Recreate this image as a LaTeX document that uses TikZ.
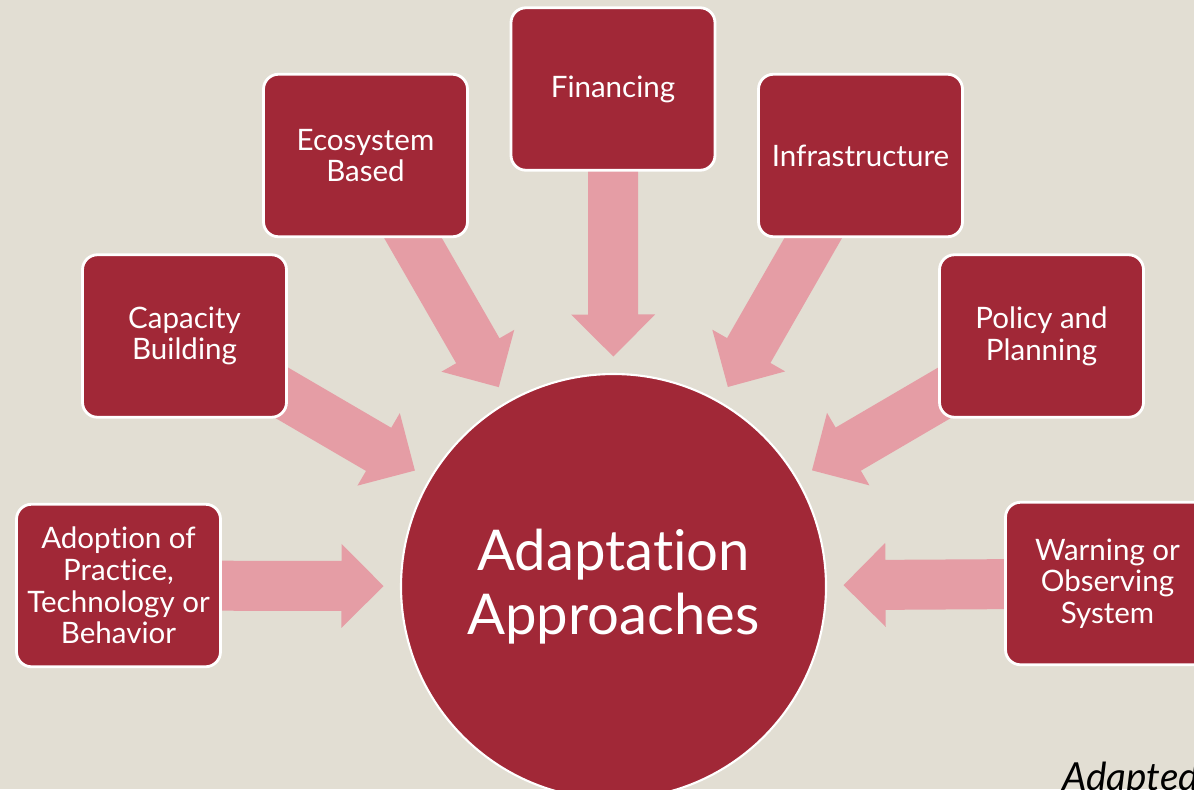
\documentclass[tikz,border=0pt]{standalone}
\usepackage{fontspec}
\setmainfont{Lato}[Ligatures=NoCommon]
\usepackage{xcolor}
\usetikzlibrary{calc, backgrounds}

\definecolor{boxred}{HTML}{A12837}
\definecolor{arrowpink}{HTML}{E59DA5}
\definecolor{paper}{HTML}{E2DED3}

% wide arrow from a box to the hub
\newcommand{\blockarrow}[1]{%
  \coordinate (tip) at ($(hub)!4.6cm!(#1)$);
  \coordinate (neck) at ($(tip)!0.84cm!(#1)$);
  \fill[arrowpink] (tip) -- ($(neck)!0.84cm!90:(#1)$) -- ($(neck)!0.5cm!90:(#1)$)
    -- ($(#1)!0.5cm!-90:(neck)$) -- ($(#1)!0.5cm!90:(neck)$)
    -- ($(neck)!0.5cm!-90:(#1)$) -- ($(neck)!0.84cm!-90:(#1)$) -- cycle;
}

\begin{document}
\begin{tikzpicture}[
    box/.style={rectangle, draw=white, line width=1.6pt, rounded corners=0.3cm, fill=boxred, minimum width=4.08cm, minimum height=3.25cm, align=center, text=white, font=\fontsize{16.8}{18}\selectfont},
    hubnode/.style={circle, draw=white, line width=1.2pt, fill=boxred, minimum size=8.5cm, inner sep=0pt, align=center, text=white, font=\fontsize{32}{36}\selectfont}
]
    \useasboundingbox (0,0) rectangle (23.88,-15.78);
    \clip (0,0) rectangle (23.88,-15.78);

    % Centre
    \node[hubnode] (hub) at (12.27,-11.73) {Adaptation\\Approaches};

    % Approaches around it
    \node[box] (adopt) at (2.37,-11.71) {Adoption of\\Practice,\\Technology or\\Behavior};
    \node[box] (capacity) at (3.69,-6.72) {Capacity\\Building};
    \node[box] (ecosystem) at (7.31,-3.11) {Ecosystem\\Based};
    \node[box] (financing) at (12.26,-1.78) {Financing};
    \node[box] (infra) at (17.21,-3.11) {Infrastructure};
    \node[box] (policy) at (20.83,-6.72) {Policy and\\Planning};
    \node[box] (warning) at (22.15,-11.67) {Warning or\\Observing\\System};

    % Source note
    \node[anchor=base west, inner sep=0pt, font=\fontsize{22}{26}\selectfont\itshape] (source) at (21.24,-15.8) {Adapted};

    % Arrows
    \begin{scope}[on background layer]
        \fill[paper] (0,0) rectangle (23.88,-15.78);
        \blockarrow{adopt}
        \blockarrow{capacity}
        \blockarrow{ecosystem}
        \blockarrow{financing}
        \blockarrow{infra}
        \blockarrow{policy}
        \blockarrow{warning}
    \end{scope}
\end{tikzpicture}
\end{document}
